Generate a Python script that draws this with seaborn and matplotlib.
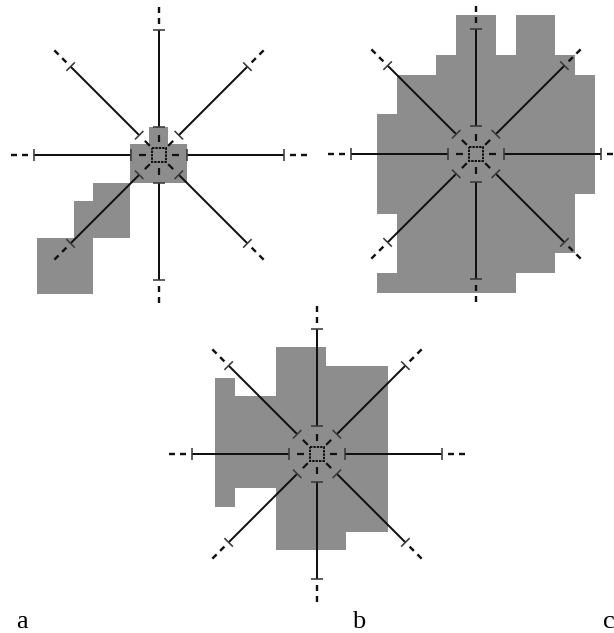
import numpy as np
import matplotlib
matplotlib.use("Agg")
import matplotlib.pyplot as plt
from matplotlib.patches import Polygon, Rectangle
import seaborn as sns

# ---------------- data ----------------
panel_labels = ["a", "b", "c"]

# gray region outlines, pixel offsets from each panel centre (x right, y down)
region_a1_x = [-9.7, 9.3, 9.3, 27.7, 27.7, -29.0, -29.0, -9.7]
region_a1_y = [-28.3, -28.3, -11.0, -11.0, 28.0, 28.0, -11.0, -11.0]
region_a2_x = [-65.7, -29.0, -29.0, -65.7, -65.7, -121.7, -121.7, -84.7, -84.7, -65.7]
region_a2_y = [28.0, 28.0, 83.3, 83.3, 139.0, 139.0, 83.3, 83.3, 46.0, 46.0]

cell_b = 19.85
region_b_x = [-1, 1, 1, 2, 2, 4, 4, 5, 5, 6, 6, 5, 5, 4, 4, 2, 2, -5, -5, -4, -4, -5, -5, -4, -4, -2, -2, -1]
region_b_y = [-7, -7, -5, -5, -7, -7, -5, -5, -4, -4, 2, 2, 5, 5, 6, 6, 7, 7, 6, 6, 3, 3, -2, -2, -4, -4, -5, -5]

region_c_x = [-41, 9, 9, 70.7, 70.7, 29, 29, -41, -41, -82, -82, -102, -102, -82, -82, -41]
region_c_y = [-106.7, -106.7, -88.3, -88.3, 77.7, 77.7, 96, 96, 34.3, 34.3, 52.7, 52.7, -76.3, -76.3, -58, -58]

ray_angles_deg = [0, 45, 90, 135, 180, 225, 270, 315]
inner_radius = 28      # inner bar end
outer_radius = 125     # outer bar end
dash_inner = (13, 20)  # short dash between square and inner bar
dash_outer_end = 150   # end of the dotted continuation

# ---------------- layout / style ----------------
W, H = 614, 633
centers = {"a": (159, 155), "b": (476, 154), "c": (317, 454)}
label_pos = {"a": (16, 628), "b": (352, 628), "c": (603, 628)}
GRAY = "#8d8d8d"
LINE = "#111111"
TICK = "#3a3a3a"

sns.set_theme(style="white")
plt.rcParams["font.family"] = ["Liberation Serif", "DejaVu Serif"]

fig = plt.figure(figsize=(W / 100, H / 100), dpi=100)
ax = fig.add_axes([0, 0, 1, 1])
ax.set_xlim(0, W)
ax.set_ylim(H, 0)
ax.axis("off")


def add_region(cx, cy, xs, ys, scale=1.0):
    pts = np.column_stack([cx + np.asarray(xs) * scale, cy + np.asarray(ys) * scale])
    ax.add_patch(Polygon(pts, closed=True, facecolor=GRAY, edgecolor="none", zorder=1))


add_region(*centers["a"], region_a1_x, region_a1_y)
add_region(*centers["a"], region_a2_x, region_a2_y)
add_region(*centers["b"], region_b_x, region_b_y, scale=cell_b)
add_region(*centers["c"], region_c_x, region_c_y)

lw_px = 0.72  # points per pixel at dpi 100


def draw_star(cx, cy):
    for ang in ray_angles_deg:
        t = np.deg2rad(ang)
        ux, uy = np.cos(t), -np.sin(t)
        px, py = -uy, ux

        def P(r):
            return cx + ux * r, cy + uy * r

        # short inner dash
        (x0, y0), (x1, y1) = P(dash_inner[0]), P(dash_inner[1])
        ax.plot([x0, x1], [y0, y1], color=LINE, lw=2.2 * lw_px, solid_capstyle="butt", zorder=3)
        # solid bar
        (x0, y0), (x1, y1) = P(inner_radius), P(outer_radius)
        ax.plot([x0, x1], [y0, y1], color=LINE, lw=2.0 * lw_px, solid_capstyle="butt", zorder=3)
        # end ticks
        for r in (inner_radius, outer_radius):
            bx, by = P(r)
            ax.plot([bx - px * 6, bx + px * 6], [by - py * 6, by + py * 6],
                    color=TICK, lw=1.6 * lw_px, solid_capstyle="butt", zorder=3)
        # dotted continuation
        (x0, y0), (x1, y1) = P(outer_radius + 6), P(dash_outer_end)
        ax.plot([x0, x1], [y0, y1], color=LINE, lw=2.4 * lw_px,
                linestyle=(0, (6 / 2.4, 5 / 2.4)), dash_capstyle="butt", zorder=3)
    # centre square
    ax.add_patch(Rectangle((cx - 7, cy - 7), 14, 14, fill=False, edgecolor=LINE,
                           lw=2.0 * lw_px, linestyle=(0, (1.2, 0.5)), zorder=4))


for key in panel_labels:
    draw_star(*centers[key])

for key in panel_labels:
    x, y = label_pos[key]
    ax.text(x, y, key, fontsize=19, color="black", ha="left", va="baseline", zorder=5)

fig.savefig("out.png", dpi=100)
